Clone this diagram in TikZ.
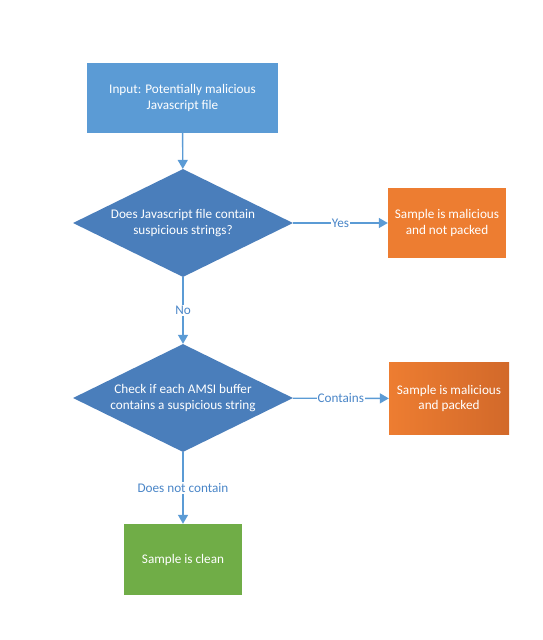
\documentclass[tikz,border=0pt]{standalone}
\usepackage{fontspec}
\setmainfont{Carlito}
\usetikzlibrary{shapes.geometric,arrows.meta}
\definecolor{inblue}{HTML}{5B9BD5}
\definecolor{dblue}{HTML}{4A7EBB}
\definecolor{lineblue}{HTML}{5B9BD5}
\definecolor{lblblue}{HTML}{4A86C8}
\definecolor{orng}{HTML}{ED7D31}
\definecolor{orngdark}{HTML}{D2692A}
\definecolor{grn}{HTML}{70AD47}
\tikzset{
  boxnode/.style={rectangle, text=white, align=center, inner sep=0pt, font=\fontsize{13.2}{15.4}\selectfont},
  decnode/.style={diamond, aspect=2.04, fill=dblue, text=white, align=center, inner sep=0pt,
     minimum width=220pt, minimum height=108pt, font=\fontsize{13.2}{15.4}\selectfont},
  conn/.style={draw=lineblue, line width=1.4pt, -{Triangle[length=9pt,width=10pt]}},
  lbl/.style={fill=white, text=lblblue, inner sep=1pt, font=\fontsize{13.2}{15}\selectfont}
}
\begin{document}
\begin{tikzpicture}[x=1pt,y=-1pt]
\useasboundingbox (0,0) rectangle (542,640);
\node[boxnode, fill=inblue, minimum width=191pt, minimum height=70pt] (input) at (182.5,98) {Input: Potentially malicious\\Javascript file};
\node[decnode] (d1) at (183,223) {Does Javascript file contain\\suspicious strings?};
\node[boxnode, fill=orng, minimum width=118pt, minimum height=70pt] (o1) at (447,223) {Sample is malicious\\and not packed};
\node[decnode] (d2) at (183,398) {Check if each AMSI buffer\\contains a suspicious string};
\node[boxnode, left color=orng, right color=orngdark, minimum width=120pt, minimum height=72pt] (o2) at (449,398.5) {Sample is malicious\\and packed};
\node[boxnode, fill=grn, minimum width=118pt, minimum height=71pt] (g) at (183,559.5) {Sample is clean};
\draw[conn] (input) -- (d1);
\draw[conn] (d1) -- node[lbl] {Yes} (o1);
\draw[conn] (d1) -- node[lbl] {No} (d2);
\draw[conn] (d2) -- node[lbl] {Contains} (o2);
\draw[conn] (d2) -- node[lbl] {Does not contain} (g);
\end{tikzpicture}
\end{document}
